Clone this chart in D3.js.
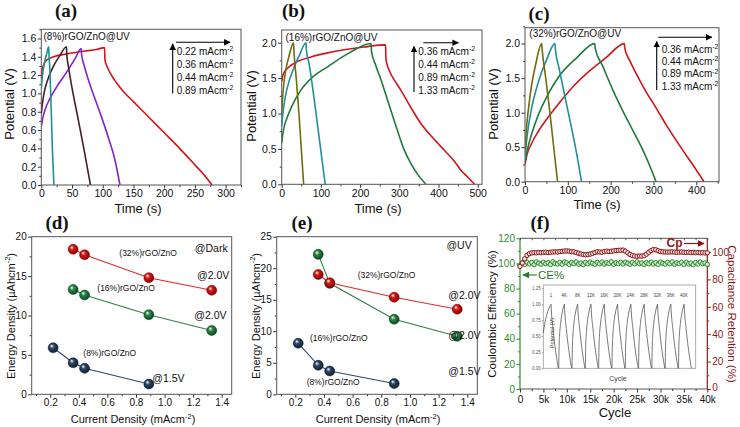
<!DOCTYPE html>
<html><head><meta charset="utf-8">
<script src="https://cdn.jsdelivr.net/npm/d3@7"></script>
<style>
body{margin:0;background:#fff;}
svg{display:block;font-family:Arial,"Liberation Sans",sans-serif;}
</style></head><body>
<svg id="c" width="740" height="427"></svg>
<script>
// ---------------- DATA ----------------
// Panel (a) GCD curves, (8%)rGO/ZnO@UV  [time s, potential V]
const aLabels = ["0.22", "0.36", "0.44", "0.89"];
const a022 = [[0,1.16],[1,1.24],[3,1.3],[8,1.36],[20,1.4],[41,1.43],[68,1.46],[90,1.48],[103,1.5],[103.5,1.37],[108,1.28],[115,1.19],[122,1.12],[135,1.01],[150,0.91],[175,0.74],[200,0.57],[225,0.4],[250,0.22],[265,0.11],[278,0]];
const a036 = [[0,0.64],[2,0.72],[6,0.82],[13,0.93],[25,1.07],[41,1.23],[55,1.38],[65,1.49],[65.5,1.43],[70,1.3],[80,1.08],[95,0.8],[110,0.5],[120,0.27],[128,0]];
const a044 = [[0,0.78],[2,0.9],[5,1.02],[10,1.14],[20,1.3],[30,1.41],[41,1.51],[41.5,1.42],[44,1.3],[50,1.06],[60,0.72],[70,0.37],[80,0]];
const a089 = [[0,1.05],[2,1.2],[5,1.33],[9,1.44],[12,1.51],[12.5,1.43],[14,1.25],[16,0.85],[18,0.4],[20.5,0]];
// Panel (b) (16%)rGO/ZnO@UV
const bLabels = ["0.36", "0.44", "0.89", "1.33"];
const b036 = [[0,1.45],[2,1.52],[6,1.58],[15,1.64],[35,1.72],[75,1.8],[120,1.86],[160,1.9],[210,1.94],[265,1.97],[266,1.76],[275,1.6],[290,1.45],[305,1.32],[330,1.08],[355,0.86],[385,0.66],[415,0.48],[440,0.33],[457,0.2],[475,0.1],[492,0]];
const b044 = [[0,0.58],[3,0.72],[8,0.85],[15,0.96],[30,1.15],[49,1.33],[80,1.52],[117,1.66],[170,1.85],[228,1.99],[229,1.88],[240,1.68],[255,1.45],[270,1.19],[290,0.85],[313,0.48],[330,0.29],[347,0.14],[368,0]];
const b089 = [[0,0.82],[3,1.0],[8,1.2],[15,1.38],[30,1.63],[45,1.82],[62,2.0],[63,1.9],[70,1.7],[80,1.32],[90,0.9],[100,0.47],[111,0]];
const b133 = [[0,1.0],[2,1.2],[5,1.4],[10,1.6],[20,1.84],[30,2.0],[31,1.9],[37,1.5],[44,1.0],[50,0.5],[56,0]];
// Panel (c) (32%)rGO/ZnO@UV
const cLabels = ["0.36", "0.44", "0.89", "1.33"];
const c036 = [[0,0.25],[5,0.4],[15,0.55],[30,0.72],[50,0.9],[80,1.14],[110,1.36],[150,1.6],[190,1.8],[232,2.0],[233,1.93],[245,1.75],[260,1.56],[280,1.33],[306,1.07],[330,0.82],[355,0.58],[380,0.35],[400,0.17],[418,0]];
const c044 = [[0,0.28],[5,0.45],[15,0.68],[30,0.95],[50,1.22],[80,1.53],[120,1.79],[163,2.0],[164,1.93],[181,1.68],[205,1.33],[228,1.03],[252,0.74],[275,0.46],[292,0.22],[306,0]];
const c089 = [[0,0.33],[3,0.55],[8,0.8],[15,1.05],[30,1.42],[50,1.76],[70,2.0],[71,1.92],[80,1.63],[95,1.18],[110,0.74],[122,0.36],[132,0]];
const c133 = [[0,0.45],[3,0.75],[8,1.05],[15,1.38],[25,1.7],[39,2.0],[40,1.92],[48,1.52],[57,1.06],[66,0.56],[76,0]];
// Panels (d) Dark and (e) UV: energy density vs current density
const curr8 = [0.22, 0.36, 0.44, 0.89];
const curr16 = [0.36, 0.44, 0.89, 1.33];
const curr32 = [0.36, 0.44, 0.89, 1.33];
const dark8 = [5.9, 4.0, 3.3, 1.3];
const dark16 = [13.3, 12.6, 10.1, 8.1];
const dark32 = [18.4, 17.7, 14.8, 13.2];
const uv8 = [8.1, 4.6, 3.7, 1.7];
const uv16 = [22.2, 17.6, 11.9, 9.2];
const uv32 = [19.0, 17.7, 15.4, 13.5];
// Panel (f) cycling (every 500 cycles)
const cycleStep = 500;
const capRetention = [89.5,92,95,97.5,98.8,99.3,99.5,99.4,99.6,99.5,99.7,99.8,99.6,99.8,100,100.1,100,100.3,100.5,100.7,100.8,100.6,100.3,100.1,99.6,99.1,98.6,98.2,98.0,98.1,98.5,99.0,99.6,100.2,100.0,99.8,100.3,100.6,100.4,100.5,100.8,101.0,101.2,101.3,101.4,100.6,99.4,98.2,97.4,97.0,96.9,97.1,97.0,97.3,98.4,99.8,101.0,101.8,101.6,100.9,100.3,100.1,100.0,99.9,100.0,100.1,99.9,99.8,99.9,100.0,99.8,99.7,99.8,99.6,99.7,99.5,99.6,99.4,99.5,99.3,99.4];
const coulombicEff = [98.5,100.5,99.2,101.0,99.6,100.8,99.0,101.2,100.2,99.4,101.0,99.8,100.6,99.1,101.3,100.0,99.5,100.9,99.3,101.1,100.4,99.2,100.7,99.8,101.2,99.5,100.3,99.0,100.8,99.6,101.0,100.1,99.3,100.9,99.7,101.1,99.4,100.6,99.9,101.3,99.2,100.5,99.8,100.9,99.5,101.0,100.2,99.3,100.8,99.6,101.2,99.9,100.4,99.1,100.7,99.8,101.0,99.5,100.6,99.2,101.1,100.0,99.4,100.9,99.7,101.2,99.3,100.5,99.9,100.8,99.2,101.0,99.6,100.3,98.9,100.7,99.5,101.1,99.8,100.4,99.3];
// Inset: cycle labels and one-cycle shape (relative time, V)
const insetLabels = ["1","4K","8K","12K","16K","20K","24K","28K","32K","36K","40K"];
const insetFirstCharge = [[-0.58,0.55],[-0.45,0.72],[-0.3,0.85],[-0.15,0.94],[0,1.0]];
const insetCharge = [[-0.42,0],[-0.4,0.3],[-0.36,0.5],[-0.28,0.7],[-0.15,0.88],[0,1.0]];
const insetDischarge = [[0,1.0],[0.02,0.92],[0.15,0.62],[0.3,0.34],[0.45,0.12],[0.55,0]];

// ---------------- DRAWING ----------------
const svg = d3.select("#c");
const defs = svg.append("defs");
function arrowMarker(id, color){
  defs.append("marker").attr("id",id).attr("viewBox","0 0 10 10").attr("refX",9).attr("refY",5)
    .attr("markerWidth",6).attr("markerHeight",6).attr("orient","auto")
    .append("path").attr("d","M0,0L10,5L0,10z").attr("fill",color);
}
arrowMarker("arrK","#000"); arrowMarker("arrR","#8b1010"); arrowMarker("arrG","#1f7a2a");
function sphereGrad(id, base, dark){
  const gr = defs.append("radialGradient").attr("id",id).attr("cx","45%").attr("cy","45%").attr("r","60%").attr("fx","35%").attr("fy","30%");
  gr.append("stop").attr("offset","0%").attr("stop-color","#ffffff");
  gr.append("stop").attr("offset","35%").attr("stop-color",base);
  gr.append("stop").attr("offset","100%").attr("stop-color",dark);
}
sphereGrad("gRed","#d81818","#7a0000");
sphereGrad("gGreen","#2a8a4a","#0c3a1c");
sphereGrad("gNavy","#2c4a6a","#0a1828");

function makePanel(o){
  const g = svg.append("g");
  const x = d3.scaleLinear().domain(o.xd).range([o.l,o.r]);
  const y = d3.scaleLinear().domain(o.yd).range([o.b,o.t]);
  const fs = o.fs || 10.5;
  const tc = o.tickColor || "#333";
  if (o.xm) g.append("g").attr("transform",`translate(0,${o.b})`).call(d3.axisBottom(x).tickValues(o.xm).tickSize(2).tickFormat(""))
    .call(s=>{s.select(".domain").remove(); s.selectAll("line").attr("stroke",tc);});
  if (o.ym) g.append("g").attr("transform",`translate(${o.l},0)`).call(d3.axisLeft(y).tickValues(o.ym).tickSize(2).tickFormat(""))
    .call(s=>{s.select(".domain").remove(); s.selectAll("line").attr("stroke",o.yColor||tc);});
  g.append("g").attr("transform",`translate(0,${o.b})`).call(d3.axisBottom(x).tickValues(o.xt).tickSize(3.5).tickPadding(o.xpad||1.5).tickFormat(o.fx))
    .call(s=>{s.select(".domain").remove(); s.selectAll("line").attr("stroke",tc);
      s.selectAll("text").attr("font-size",fs).attr("fill","#111").attr("font-family","Arial,'Liberation Sans',sans-serif");});
  g.append("g").attr("transform",`translate(${o.l},0)`).call(d3.axisLeft(y).tickValues(o.yt).tickSize(3.5).tickPadding(1.5).tickFormat(o.fy))
    .call(s=>{s.select(".domain").remove(); s.selectAll("line").attr("stroke",o.yColor||tc);
      s.selectAll("text").attr("font-size",fs).attr("fill",o.yColor||"#111").attr("font-family","Arial,'Liberation Sans',sans-serif");});
  if (!o.noFrame) g.append("rect").attr("x",o.l).attr("y",o.t).attr("width",o.r-o.l).attr("height",o.b-o.t)
    .attr("fill","none").attr("stroke","#555").attr("stroke-width",1);
  const clipId = "clip"+Math.round(o.l)+"_"+Math.round(o.t);
  defs.append("clipPath").attr("id",clipId).append("rect").attr("x",o.l).attr("y",o.t-3).attr("width",o.r-o.l).attr("height",o.b-o.t+3);
  const plot = g.append("g").attr("clip-path",`url(#${clipId})`);
  return {g, x, y, plot};
}
function supText(g, x, y, pre, sup, post, opts){
  opts = opts||{};
  const fs = opts.fs||11;
  const t = g.append("text").attr("x",x).attr("y",y).attr("font-size",fs).attr("fill",opts.fill||"#111")
    .attr("text-anchor",opts.anchor||"start");
  if (opts.rotate) t.attr("transform",`rotate(-90,${x},${y})`);
  t.append("tspan").text(pre);
  t.append("tspan").attr("dy",-fs*0.38).attr("font-size",fs*0.68).text(sup);
  t.append("tspan").attr("dy",fs*0.38).text(post);
  return t;
}
function label(x,y,txt,fs,opts){
  opts=opts||{};
  const t = svg.append("text").attr("x",x).attr("y",y).attr("font-size",fs).attr("fill",opts.fill||"#111")
    .attr("text-anchor",opts.anchor||"start").text(txt);
  if (opts.serif) t.attr("font-family","'Liberation Serif','Times New Roman',serif").attr("font-weight","bold");
  if (opts.bold) t.attr("font-weight","bold");
  if (opts.rotate) t.attr("transform",`rotate(-90,${x},${y})`);
  return t;
}
function arrow(x1,y1,x2,y2,marker,color,w){
  svg.append("line").attr("x1",x1).attr("y1",y1).attr("x2",x2).attr("y2",y2)
    .attr("stroke",color||"#000").attr("stroke-width",w||1.1).attr("marker-end",`url(#${marker||"arrK"})`);
}
function gcd(p, series){
  const line = d3.line().x(d=>p.x(d[0])).y(d=>p.y(d[1])).curve(d3.curveMonotoneX);
  series.forEach(s=>{
    p.plot.append("path").attr("d",line(s.data)).attr("fill","none").attr("stroke",s.color).attr("stroke-width",1.6);
  });
}
function legendBlock(tx, ys, hx1, hx2, hy, vx, vy1, vy2, labels){
  arrow(hx1,hy,hx2,hy);
  arrow(vx,vy1,vx,vy2);
  labels.forEach((l,i)=>supText(svg, tx, ys[i], l+" mAcm", "-2", "", {fs:10}));
}
const RED="#d0161c", PURPLE="#8224c8", BROWN="#4a1e22", TEAL="#1f8f98", OLIVE="#6f6c0c", DGREEN="#1f7a3c";

// ---- (a)
const pa = makePanel({l:41.3,t:29.3,r:241,b:185,xd:[0,325],yd:[0,1.7],
  xt:[0,50,100,150,200,250,300], xm:[25,75,125,175,225,275,325], yt:[0,0.2,0.4,0.6,0.8,1.0,1.2,1.4,1.6], ym:[0.1,0.3,0.5,0.7,0.9,1.1,1.3,1.5,1.7],
  fx:d3.format("d"), fy:d3.format(".1f"), fs:10.5});
gcd(pa,[{data:a022,color:RED},{data:a036,color:PURPLE},{data:a044,color:BROWN},{data:a089,color:TEAL}]);
label(43.5,39.5,"(8%)rGO/ZnO@UV",10);
legendBlock(176.7,[54.5,67.7,80.9,94],176,230,42.3,172.7,93.5,44,aLabels);
label(66,17,"(a)",19,{serif:true,anchor:"middle"});
label(138,213,"Time (s)",13,{anchor:"middle"});
label(14,104,"Potential (V)",13,{anchor:"middle",rotate:true});

// ---- (b)
const pb = makePanel({l:281.7,t:30,r:482,b:184.3,xd:[0,511],yd:[0,2.18],
  xt:[0,100,200,300,400,500], xm:[50,150,250,350,450], yt:[0,0.5,1.0,1.5,2.0], ym:[0.25,0.75,1.25,1.75],
  fx:d3.format("d"), fy:d3.format(".1f"), fs:10.5});
gcd(pb,[{data:b036,color:RED},{data:b044,color:DGREEN},{data:b089,color:TEAL},{data:b133,color:OLIVE}]);
label(285.5,41,"(16%)rGO/ZnO@UV",10);
legendBlock(418.3,[55.2,68,80.8,93.6],423.3,458.3,42.7,414,92,46.5,bLabels);
label(293.5,17,"(b)",19,{serif:true,anchor:"middle"});
label(378,213,"Time (s)",13,{anchor:"middle"});
label(256,106,"Potential (V)",13,{anchor:"middle",rotate:true});

// ---- (c)
const pc = makePanel({l:525,t:27.7,r:719,b:181.7,xd:[0,453],yd:[0,2.23],
  xt:[0,100,200,300,400], xm:[50,150,250,350,450], yt:[0,0.5,1.0,1.5,2.0], ym:[0.25,0.75,1.25,1.75,2.25],
  fx:d3.format("d"), fy:d3.format(".1f"), fs:10.5});
gcd(pc,[{data:c036,color:RED},{data:c044,color:DGREEN},{data:c089,color:TEAL},{data:c133,color:OLIVE}]);
label(529.3,37,"(32%)rGO/ZnO@UV",10);
legendBlock(661.7,[52.8,65.1,77.4,89.7],658.3,711.7,37.3,656.7,90,41.5,cLabels);
label(539,19.5,"(c)",19,{serif:true,anchor:"middle"});
label(597,209,"Time (s)",13,{anchor:"middle"});
label(498,104,"Potential (V)",13,{anchor:"middle",rotate:true});

// ---- (d) & (e)
function drawEnergy(p, sets){
  const line = d3.line().x(d=>p.x(d[0])).y(d=>p.y(d[1]));
  sets.forEach(s=>{
    const pts = s.xs.map((v,i)=>[v,s.ys[i]]);
    p.g.append("path").attr("d",line(pts)).attr("fill","none").attr("stroke",s.line).attr("stroke-width",1.1);
    p.g.selectAll(null).data(pts).enter().append("circle").attr("cx",d=>p.x(d[0])).attr("cy",d=>p.y(d[1])).attr("r",5)
      .attr("fill",`url(#${s.grad})`).attr("stroke",s.stroke).attr("stroke-width",0.5);
  });
}
const pd = makePanel({l:31.7,t:236.7,r:231.7,b:394.3,xd:[0.07,1.47],yd:[0,20],
    xt:[0.2,0.4,0.6,0.8,1.0,1.2,1.4], xm:[0.1,0.3,0.5,0.7,0.9,1.1,1.3], yt:[0,5,10,15,20], ym:[2.5,7.5,12.5,17.5],
    fx:d3.format(".1f"), fy:d3.format("d"), fs:10});
drawEnergy(pd,[{xs:curr8,ys:dark8,line:"#2b4a6b",grad:"gNavy",stroke:"#0a1828"},
  {xs:curr16,ys:dark16,line:"#2e8046",grad:"gGreen",stroke:"#0c3a1c"},
  {xs:curr32,ys:dark32,line:"#e02a2a",grad:"gRed",stroke:"#7a0000"}]);
label(119.3,255.7,"(32%)rGO/ZnO",8.5);
label(227.7,251.5,"@Dark",10.5,{anchor:"end"});
label(197,278.5,"@2.0V",10.5);
label(97.3,291.3,"(16%)rGO/ZnO",8.5);
label(194.3,318.5,"@2.0V",10.5);
label(83.3,355.7,"(8%)rGO/ZnO",8.5);
label(152.3,381.8,"@1.5V",10.5);
label(57,229,"(d)",19,{serif:true,anchor:"middle"});
supText(svg,133,423,"Current Density (mAcm","-2",")",{fs:11,anchor:"middle"});
supText(svg,14.5,316,"Energy Density (\u00b5Ahcm","-2",")",{fs:11,anchor:"middle",rotate:true});

const pe = makePanel({l:276.7,t:236.7,r:477.3,b:394.3,xd:[0.07,1.47],yd:[0,25],
    xt:[0.2,0.4,0.6,0.8,1.0,1.2,1.4], xm:[0.1,0.3,0.5,0.7,0.9,1.1,1.3], yt:[0,5,10,15,20,25], ym:[2.5,7.5,12.5,17.5,22.5],
    fx:d3.format(".1f"), fy:d3.format("d"), fs:10});
drawEnergy(pe,[{xs:curr8,ys:uv8,line:"#2b4a6b",grad:"gNavy",stroke:"#0a1828"},
  {xs:curr16,ys:uv16,line:"#2e8046",grad:"gGreen",stroke:"#0c3a1c"},
  {xs:curr32,ys:uv32,line:"#e02a2a",grad:"gRed",stroke:"#7a0000"}]);
label(471.7,248.5,"@UV",10.5,{anchor:"end"});
label(357.7,278,"(32%)rGO/ZnO",8.5);
label(448.3,298.5,"@2.0V",10.5);
label(448.3,338.5,"@2.0V",10.5);
label(310,341.3,"(16%)rGO/ZnO",8.5);
label(448.3,375.2,"@1.5V",10.5);
label(306.7,384.7,"(8%)rGO/ZnO",8.5);
label(302,229,"(e)",19,{serif:true,anchor:"middle"});
supText(svg,378,423,"Current Density (mAcm","-2",")",{fs:11,anchor:"middle"});
supText(svg,259.5,316,"Energy Density (\u00b5Ahcm","-2",")",{fs:11,anchor:"middle",rotate:true});

// ---- (f)
const FL=520, FT=238.3, FR=707.3, FB=389;
const GREENAX="#2e8b2e", REDAX="#8b1a1a";
const pf = makePanel({l:FL,t:FT,r:FR,b:FB,xd:[0,40000],yd:[0,120],
  xt:[0,5000,10000,15000,20000,25000,30000,35000,40000], xm:d3.range(2500,40000,5000),
  yt:[0,20,40,60,80,100,120], ym:[10,30,50,70,90,110],
  fx:d=>d===0?"0":(d/1000)+"k", fy:d3.format("d"), fs:10, yColor:GREENAX, noFrame:true, xpad:3});
const yR = d3.scaleLinear().domain([0,110]).range([FB,FT]);
svg.append("g").attr("transform",`translate(${FR},0)`).call(d3.axisRight(yR).tickValues([10,30,50,70,90]).tickSize(2).tickFormat(""))
  .call(s=>{s.select(".domain").remove(); s.selectAll("line").attr("stroke",REDAX);});
svg.append("g").attr("transform",`translate(${FR},0)`).call(d3.axisRight(yR).tickValues([0,20,40,60,80,100]).tickSize(3.5).tickPadding(1.5))
  .call(s=>{s.select(".domain").remove(); s.selectAll("line").attr("stroke",REDAX);
    s.selectAll("text").attr("font-size",10).attr("fill",REDAX);
    s.selectAll(".tick").filter(d=>d===0).select("text").attr("dy","0.1em");});
svg.append("line").attr("x1",FL).attr("x2",FR).attr("y1",FT).attr("y2",FT).attr("stroke","#555");
svg.append("line").attr("x1",FL).attr("x2",FR).attr("y1",FB).attr("y2",FB).attr("stroke","#555");
svg.append("line").attr("x1",FL).attr("x2",FL).attr("y1",FT).attr("y2",FB).attr("stroke",GREENAX).attr("stroke-width",1.2);
svg.append("line").attr("x1",FR).attr("x2",FR).attr("y1",FT).attr("y2",FB).attr("stroke",REDAX).attr("stroke-width",1.2);
svg.append("g").attr("transform",`translate(0,${FT})`).call(d3.axisBottom(pf.x).tickValues(d3.range(0,40001,2500)).tickSize(2).tickFormat(""))
  .call(s=>{s.select(".domain").remove(); s.selectAll("line").attr("stroke","#555");});
// inset
const IL=543.3, IT=285, IR=695.7, IB=368.3;
const ix = d3.scaleLinear().domain([0,11.45]).range([IL,IR]);
const iy = d3.scaleLinear().domain([0,1.3]).range([IB,IT]);
svg.append("rect").attr("x",IL).attr("y",IT).attr("width",IR-IL).attr("height",IB-IT).attr("fill","#fff").attr("stroke","#999").attr("stroke-width",0.8);
svg.append("g").attr("transform",`translate(${IL},0)`).call(d3.axisLeft(iy).tickValues([0,0.25,0.5,0.75,1.0,1.25]).tickSize(1.5).tickPadding(1).tickFormat(d3.format(".2f")))
  .call(s=>{s.select(".domain").remove(); s.selectAll("line").attr("stroke","#999"); s.selectAll("text").attr("font-size",4.5).attr("fill","#555");});
const iline = d3.line().x(d=>ix(d[0])).y(d=>iy(d[1])).curve(d3.curveMonotoneX);
insetLabels.forEach((lab,k)=>{
  const pk = 0.58 + k;
  const ch = (k===0?insetFirstCharge:insetCharge).map(d=>[d[0]+pk,d[1]]);
  const dc = insetDischarge.map(d=>[d[0]+pk,d[1]]);
  svg.append("path").attr("d",iline(ch)).attr("fill","none").attr("stroke","#555").attr("stroke-width",0.8);
  svg.append("path").attr("d",iline(dc)).attr("fill","none").attr("stroke","#555").attr("stroke-width",0.8);
  svg.append("text").attr("x",ix(pk)).attr("y",296.5).attr("text-anchor","middle").attr("font-size",4.5).attr("fill","#444").text(lab);
});
label(554,333,"Potential (V)",5.5,{anchor:"middle",rotate:true,fill:"#444"});
label(618,381,"Cycle",7,{anchor:"middle",fill:"#444"});
const cyc = capRetention.map((v,i)=>i*cycleStep);
svg.selectAll(null).data(coulombicEff).enter().append("circle").attr("cx",(d,i)=>pf.x(i*cycleStep)).attr("cy",d=>pf.y(d)).attr("r",2.2)
  .attr("fill","#cfe9cf").attr("stroke","#2a8a2a").attr("stroke-width",1);
svg.selectAll(null).data(capRetention).enter().append("circle").attr("cx",(d,i)=>pf.x(cyc[i])).attr("cy",d=>yR(d)).attr("r",2.2)
  .attr("fill","#f6e4e4").attr("stroke","#8b1414").attr("stroke-width",1);
label(666.5,247,"Cp",12,{bold:true,fill:REDAX});
arrow(684,243.5,704,243.5,"arrR",REDAX,1.2);
arrow(537,275,523,275,"arrG",GREENAX,1.2);
label(538,279,"CE%",11.5,{fill:"#1f7a2a"});
label(540,228.5,"(f)",19,{serif:true,anchor:"middle"});
label(615,417,"Cycle",13,{anchor:"middle"});
label(496,314,"Coulombic Efficiency (%)",11.5,{anchor:"middle",rotate:true});
svg.append("text").attr("x",728).attr("y",314).attr("font-size",11.5).attr("fill",REDAX).attr("text-anchor","middle")
  .attr("transform","rotate(90,728,314)").text("Capacitance Retention (%)");
</script>
</body></html>
